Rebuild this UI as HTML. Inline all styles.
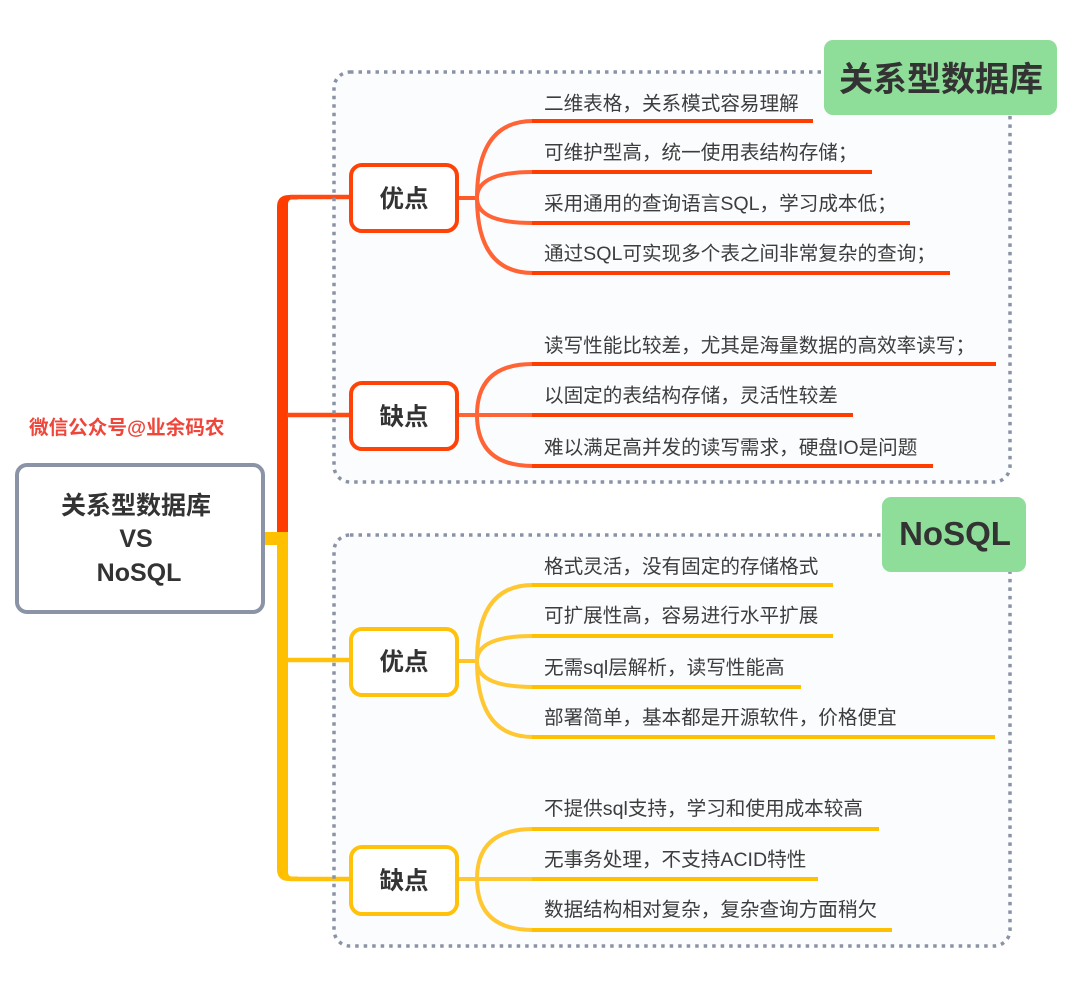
<!DOCTYPE html>
<html><head><meta charset="utf-8">
<style>
html,body{margin:0;padding:0;background:#fff;}
svg{display:block;}
text{font-family:"Liberation Sans","Noto Sans CJK SC",sans-serif;}
.leaf{font-size:19.6px;fill:#3d3d3d;}
.node{font-size:24.5px;font-weight:bold;fill:#333;}
</style></head>
<body>
<svg width="1080" height="1008" viewBox="0 0 1080 1008" xmlns="http://www.w3.org/2000/svg">
<rect width="1080" height="1008" fill="#fff"/>
<!-- box fills -->
<rect x="334" y="72" width="676" height="410" rx="16" fill="#fafcfe"/>
<rect x="334" y="535" width="676" height="411" rx="16" fill="#fafcfe"/>

<!-- trunk red -->
<path d="M277 532 V207 Q277 195 289 195 H298 V199.5 H292 Q288 199.5 288 204 V532 Z" fill="#ff3d00"/>
<!-- trunk yellow -->
<path d="M277 532 V869 Q277 881 289 881 H298 V876.5 H292 Q288 876.5 288 872 V532 Z" fill="#ffc000"/>
<rect x="264" y="532" width="14" height="13" fill="#ffc000"/>

<!-- branches trunk->nodes -->
<g stroke-width="4.5" fill="none">
<line x1="290" y1="197" x2="351" y2="197" stroke="#ff4a14"/>
<line x1="287" y1="415" x2="351" y2="415" stroke="#ff4a14"/>
<line x1="287" y1="660" x2="351" y2="660" stroke="#ffc10a"/>
<line x1="290" y1="879" x2="351" y2="879" stroke="#ffc10a"/>
</g>

<!-- RED 优点 leaves -->
<g fill="none" stroke-width="4">
<line x1="458" y1="198" x2="478" y2="198" stroke="#ff5a2a"/>
<path d="M477 198 Q477 121 533 121" stroke="#ff6436"/>
<path d="M477 198 Q477 172 533 172" stroke="#ff6436"/>
<path d="M477 198 Q477 223 533 223" stroke="#ff6436"/>
<path d="M477 198 Q477 273 533 273" stroke="#ff6436"/>
<line x1="532" y1="121" x2="813" y2="121" stroke="#ff3d00"/>
<line x1="532" y1="172" x2="872" y2="172" stroke="#ff3d00"/>
<line x1="532" y1="223" x2="910" y2="223" stroke="#ff3d00"/>
<line x1="532" y1="273" x2="950" y2="273" stroke="#ff3d00"/>
</g>
<!-- RED 缺点 leaves -->
<g fill="none" stroke-width="4">
<line x1="458" y1="415" x2="533" y2="415" stroke="#ff6436"/>
<path d="M477 415 Q477 364 533 364" stroke="#ff6436"/>
<path d="M477 415 Q477 466 533 466" stroke="#ff6436"/>
<line x1="532" y1="364" x2="996" y2="364" stroke="#ff3d00"/>
<line x1="532" y1="415" x2="853" y2="415" stroke="#ff3d00"/>
<line x1="532" y1="466" x2="933" y2="466" stroke="#ff3d00"/>
</g>
<!-- YELLOW 优点 leaves -->
<g fill="none" stroke-width="4">
<line x1="458" y1="661" x2="478" y2="661" stroke="#ffc526"/>
<path d="M477 661 Q477 585 533 585" stroke="#ffc833"/>
<path d="M477 661 Q477 636 533 636" stroke="#ffc833"/>
<path d="M477 661 Q477 687 533 687" stroke="#ffc833"/>
<path d="M477 661 Q477 737 533 737" stroke="#ffc833"/>
<line x1="532" y1="585" x2="833" y2="585" stroke="#ffc000"/>
<line x1="532" y1="636" x2="833" y2="636" stroke="#ffc000"/>
<line x1="532" y1="687" x2="801" y2="687" stroke="#ffc000"/>
<line x1="532" y1="737" x2="995" y2="737" stroke="#ffc000"/>
</g>
<!-- YELLOW 缺点 leaves -->
<g fill="none" stroke-width="4">
<line x1="458" y1="879" x2="533" y2="879" stroke="#ffc833"/>
<path d="M477 879 Q477 829 533 829" stroke="#ffc833"/>
<path d="M477 879 Q477 930 533 930" stroke="#ffc833"/>
<line x1="532" y1="829" x2="879" y2="829" stroke="#ffc000"/>
<line x1="532" y1="879" x2="818" y2="879" stroke="#ffc000"/>
<line x1="532" y1="930" x2="892" y2="930" stroke="#ffc000"/>
</g>

<!-- dotted box outlines -->
<rect x="334" y="72" width="676" height="410" rx="16" fill="none" stroke="#8a93a6" stroke-width="3.5" stroke-dasharray="3.5 5"/>
<rect x="334" y="535" width="676" height="411" rx="16" fill="none" stroke="#8a93a6" stroke-width="3.5" stroke-dasharray="3.5 5"/>

<!-- nodes -->
<rect x="351" y="165" width="106" height="66" rx="11" fill="#fff" stroke="#ff4207" stroke-width="4"/>
<rect x="351" y="383" width="106" height="66" rx="11" fill="#fff" stroke="#ff4207" stroke-width="4"/>
<rect x="351" y="629" width="106" height="66" rx="11" fill="#fff" stroke="#ffc10a" stroke-width="4"/>
<rect x="351" y="847" width="106" height="67" rx="11" fill="#fff" stroke="#ffc10a" stroke-width="4"/>
<text class="node" x="404" y="207" text-anchor="middle">优点</text>
<text class="node" x="404" y="425" text-anchor="middle">缺点</text>
<text class="node" x="404" y="670" text-anchor="middle">优点</text>
<text class="node" x="404" y="889" text-anchor="middle">缺点</text>

<!-- leaf texts -->
<text class="leaf" x="544" y="110">二维表格，关系模式容易理解</text>
<text class="leaf" x="544" y="159">可维护型高，统一使用表结构存储；</text>
<text class="leaf" x="544" y="210">采用通用的查询语言SQL，学习成本低；</text>
<text class="leaf" x="544" y="260">通过SQL可实现多个表之间非常复杂的查询；</text>
<text class="leaf" x="544" y="352">读写性能比较差，尤其是海量数据的高效率读写；</text>
<text class="leaf" x="544" y="402">以固定的表结构存储，灵活性较差</text>
<text class="leaf" x="544" y="454">难以满足高并发的读写需求，硬盘IO是问题</text>
<text class="leaf" x="544" y="573">格式灵活，没有固定的存储格式</text>
<text class="leaf" x="544" y="622">可扩展性高，容易进行水平扩展</text>
<text class="leaf" x="544" y="674">无需sql层解析，读写性能高</text>
<text class="leaf" x="544" y="724">部署简单，基本都是开源软件，价格便宜</text>
<text class="leaf" x="544" y="815">不提供sql支持，学习和使用成本较高</text>
<text class="leaf" x="544" y="866">无事务处理，不支持ACID特性</text>
<text class="leaf" x="544" y="916">数据结构相对复杂，复杂查询方面稍欠</text>

<!-- green labels -->
<rect x="824" y="40" width="233" height="75" rx="9" fill="#8edd98"/>
<text x="941" y="91" text-anchor="middle" font-size="34" font-weight="bold" fill="#333">关系型数据库</text>
<rect x="882" y="497" width="144" height="75" rx="9" fill="#8edd98"/>
<text x="955" y="545" text-anchor="middle" font-size="33" font-weight="bold" fill="#333">NoSQL</text>

<!-- central node -->
<rect x="17" y="465" width="246" height="147" rx="10" fill="#fff" stroke="#8a94a6" stroke-width="4"/>
<text x="136" y="514" text-anchor="middle" font-size="25" font-weight="bold" fill="#333">关系型数据库</text>
<text x="136" y="547" text-anchor="middle" font-size="25" font-weight="bold" fill="#333">VS</text>
<text x="139" y="581" text-anchor="middle" font-size="25" font-weight="bold" fill="#333">NoSQL</text>

<!-- watermark -->
<text x="29" y="434" font-size="19.6" font-weight="bold" fill="#ef463b">微信公众号@业余码农</text>
</svg>
</body></html>
